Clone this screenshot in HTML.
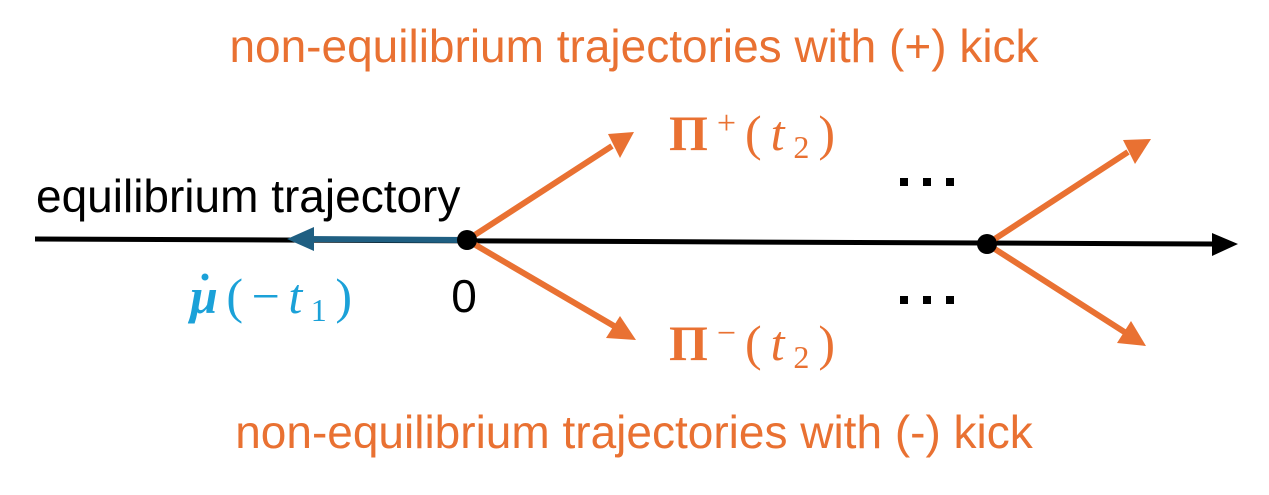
<!DOCTYPE html>
<html><head><meta charset="utf-8"><style>
html,body{margin:0;padding:0;background:#fff;}
body{width:1269px;height:490px;overflow:hidden;}
</style></head><body>
<svg width="1269" height="490" viewBox="0 0 1269 490" xmlns="http://www.w3.org/2000/svg">
<line x1="35" y1="239" x2="1215" y2="244" stroke="#000" stroke-width="5"/>
<polygon points="1212,233 1238,244 1212,256" fill="#000"/>
<line x1="467" y1="240" x2="305" y2="239" stroke="#1F5F82" stroke-width="6"/>
<polygon points="314,227 287,239 314,251" fill="#1F5F82"/>
<g stroke="#E97132" stroke-width="6" fill="none">
<line x1="467" y1="240" x2="612" y2="146"/>
<line x1="467" y1="240" x2="614" y2="326"/>
<line x1="987" y1="244" x2="1128" y2="152"/>
<line x1="987" y1="244" x2="1126" y2="333"/>
</g>
<g fill="#E97132">
<polygon points="634,132 608,134 620,158"/>
<polygon points="636,340 620,316 606,338"/>
<polygon points="1151,139 1123,140 1135,164"/>
<polygon points="1146,346 1131,321 1117,343"/>
</g>
<circle cx="467" cy="240" r="10" fill="#000"/>
<circle cx="987" cy="244" r="10" fill="#000"/>
<g fill="#000">
<rect x="900" y="178" width="8" height="8"/><rect x="923" y="178" width="8" height="8"/><rect x="946" y="178" width="8" height="8"/>
<rect x="900" y="296" width="8" height="8"/><rect x="923" y="296" width="8" height="8"/><rect x="946" y="296" width="8" height="8"/>
</g>
<g font-family="Liberation Sans, sans-serif">
<text x="634" y="62" font-size="46" fill="#E97132" text-anchor="middle">non-equilibrium trajectories with (+) kick</text>
<text x="634" y="448" font-size="46" fill="#E97132" text-anchor="middle">non-equilibrium trajectories with (-) kick</text>
<text x="36" y="212" font-size="46" fill="#000">equilibrium trajectory</text>
<text x="464" y="312" font-size="46" fill="#000" text-anchor="middle">0</text>
</g>
<g font-family="Liberation Serif, DejaVu Serif, serif" fill="#E97132">
<text x="669" y="150" font-size="50" textLength="166" lengthAdjust="spacing"><tspan font-weight="bold">Π</tspan><tspan font-size="34" dy="-16">+</tspan><tspan dy="16">(</tspan><tspan font-style="italic">t</tspan><tspan font-size="32" dy="8">2</tspan><tspan dy="-8">)</tspan></text>
<text x="669" y="360" font-size="50" textLength="166" lengthAdjust="spacing"><tspan font-weight="bold">Π</tspan><tspan font-size="34" dy="-16">−</tspan><tspan dy="16">(</tspan><tspan font-style="italic">t</tspan><tspan font-size="32" dy="8">2</tspan><tspan dy="-8">)</tspan></text>
</g>
<g font-family="Liberation Serif, DejaVu Serif, serif" fill="#1BA1D8">
<text x="190" y="313" font-size="50" textLength="162" lengthAdjust="spacing"><tspan font-weight="bold" font-style="italic">μ</tspan>(−<tspan font-style="italic">t</tspan><tspan font-size="32" dy="8">1</tspan><tspan dy="-8">)</tspan></text>
<circle cx="205" cy="277" r="3.5"/>
</g>
</svg>
</body></html>
